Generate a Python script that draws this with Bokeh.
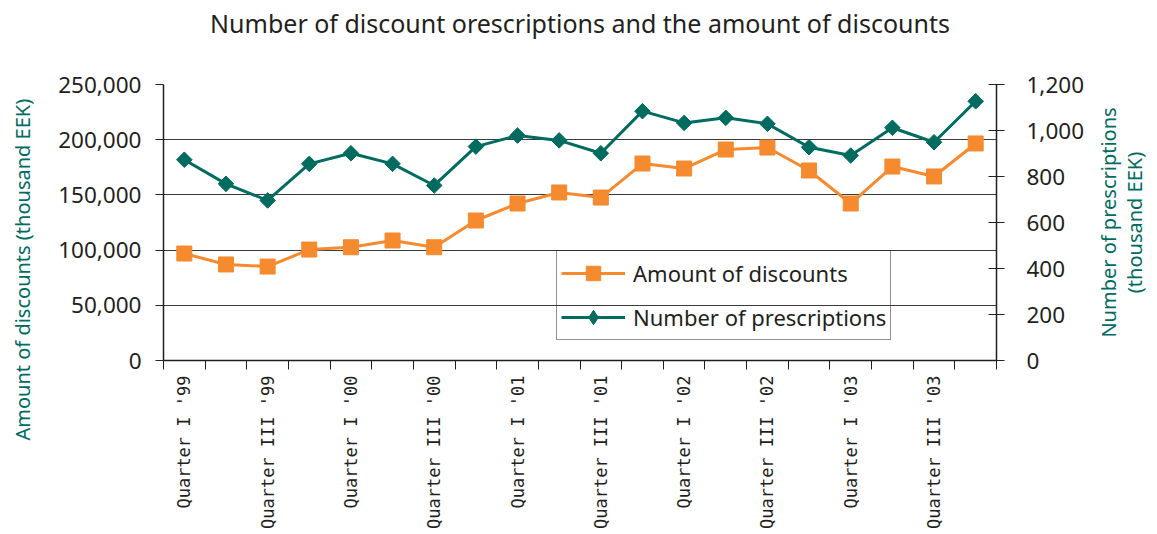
import numpy as np
from bokeh.plotting import figure
from bokeh.layouts import row
from bokeh.models import (Range1d, LinearAxis, FixedTicker, NumeralTickFormatter,
                          Legend, LegendItem, Title, Label)
from bokeh.embed import file_html
from bokeh.resources import INLINE

# ---------------- data ----------------
quarters = ["Quarter I '99", "Quarter II '99", "Quarter III '99", "Quarter IV '99",
            "Quarter I '00", "Quarter II '00", "Quarter III '00", "Quarter IV '00",
            "Quarter I '01", "Quarter II '01", "Quarter III '01", "Quarter IV '01",
            "Quarter I '02", "Quarter II '02", "Quarter III '02", "Quarter IV '02",
            "Quarter I '03", "Quarter II '03", "Quarter III '03", "Quarter IV '03"]
discounts = [96900, 87000, 85100, 100500, 102600, 108700, 102600, 126800, 142200, 152200,
             147600, 178400, 173900, 191100, 192900, 172100, 142200, 175700, 166700, 196600]
prescriptions = [873, 768, 696, 855, 901, 855, 761, 930, 978, 957,
                 901, 1084, 1033, 1055, 1029, 927, 891, 1012, 949, 1127]
left_ticks = [0, 50000, 100000, 150000, 200000, 250000]
right_ticks = [0, 200, 400, 600, 800, 1000, 1200]
series_names = ["Amount of discounts", "Number of prescriptions"]
title_text = "Number of discount orescriptions and the amount of discounts"
left_title = "Amount of discounts (thousand EEK)"
right_title = ["Number of prescriptions", "(thousand EEK)"]

ORANGE = "#F58A2E"
TEAL = "#006B5F"
INK = "#231F20"
FONT = "Noto Sans"

n = len(quarters)
x = [i + 0.5 for i in range(n)]

p = figure(width=1087, height=534, output_backend="svg", toolbar_location=None,
           x_range=Range1d(0, n), y_range=Range1d(0, 250000),
           min_border_left=163, min_border_right=90, min_border_top=84,
           min_border_bottom=174)
p.outline_line_color = None
p.background_fill_color = "white"

# title (outermost) with an invisible spacer between it and the plot
p.title.text = title_text
p.title.align = "center"
p.title.text_font = FONT
p.title.text_font_size = "25px"
p.title.text_font_style = "normal"
p.title.text_color = INK
p.title.standoff = 4
p.add_layout(Title(text=" ", text_font_size="1px", standoff=40), "above")

# x axis
xa = p.xaxis[0]
xa.ticker = FixedTicker(ticks=[x[i] for i in range(0, n, 2)], minor_ticks=list(range(n + 1)))
xa.major_label_overrides = {x[i]: quarters[i] for i in range(0, n, 2)}
xa.major_label_orientation = np.pi / 2
xa.major_tick_in = 0
xa.major_tick_out = 0
xa.minor_tick_in = 0
xa.minor_tick_out = 9
xa.minor_tick_line_color = INK
xa.axis_line_color = INK
xa.axis_line_width = 1.5
xa.major_label_text_font = "DejaVu Sans Mono"
xa.major_label_text_font_size = "17px"
xa.major_label_text_color = INK
xa.major_label_standoff = 6
p.xgrid.visible = False

# left axis
ya = p.yaxis[0]
ya.ticker = FixedTicker(ticks=left_ticks)
ya.formatter = NumeralTickFormatter(format="0,0")
ya.major_tick_in = 0
ya.major_tick_out = 8
ya.major_tick_line_color = INK
ya.axis_line_color = INK
ya.axis_line_width = 1.5
ya.major_label_text_font = FONT
ya.major_label_text_font_size = "22.5px"
ya.major_label_text_color = INK
ya.major_label_standoff = 14
p.ygrid.ticker = FixedTicker(ticks=left_ticks)
p.ygrid.grid_line_color = "#3a3a3a"
p.ygrid.grid_line_width = 1

p.add_layout(Title(text=" ", text_font_size="1px", standoff=12), "left")
p.add_layout(Title(text=left_title, align="left", offset=-80, text_font=FONT,
                   text_font_size="20px", text_font_style="normal", text_color=TEAL), "left")

# right axis
p.extra_y_ranges = {"right": Range1d(0, 1200)}
ra = LinearAxis(y_range_name="right", ticker=FixedTicker(ticks=right_ticks),
                formatter=NumeralTickFormatter(format="0,0"))
ra.major_tick_in = 8
ra.major_tick_out = 8
ra.major_tick_line_color = INK
ra.axis_line_color = INK
ra.axis_line_width = 1.5
ra.major_label_text_font = FONT
ra.major_label_text_font_size = "22.5px"
ra.major_label_text_color = INK
ra.major_label_standoff = 22
p.add_layout(ra, "right")

# series
l1 = p.line(x, discounts, line_color=ORANGE, line_width=3)
s1 = p.scatter(x, discounts, marker="square", size=15, fill_color=ORANGE, line_color=ORANGE)
l2 = p.line(x, prescriptions, y_range_name="right", line_color=TEAL, line_width=3)
s2 = p.scatter(x, prescriptions, y_range_name="right", marker="square", angle=np.pi / 4,
               size=11, fill_color=TEAL, line_color=TEAL)
# legend-only diamond glyph (legend glyphs are never rotated); its point is NaN
s2_leg = p.scatter([np.nan], [np.nan], y_range_name="right", marker="diamond", size=18,
                   fill_color=TEAL, line_color=TEAL)

legend = Legend(items=[LegendItem(label=series_names[0], renderers=[l1, s1]),
                       LegendItem(label=series_names[1], renderers=[l2, s2_leg])],
                location=(393, 20), border_line_color=INK, border_line_width=1,
                background_fill_color=None, background_fill_alpha=0,
                label_text_font=FONT, label_text_font_size="22px", label_text_color=INK,
                glyph_width=64, glyph_height=36, label_height=36, spacing=8,
                padding=4, label_standoff=8, margin=0)
p.add_layout(legend)

# right-hand title panel (text reads bottom to top); its frame is aligned with p's frame
p2 = figure(width=70, height=534, output_backend="svg", toolbar_location=None,
            x_range=Range1d(0, 70), y_range=Range1d(0, 534), min_border=0,
            x_axis_location=None, y_axis_location=None)
p2.grid.visible = False
p2.outline_line_color = None
for xc, txt in zip([21, 47], right_title):
    p2.add_layout(Label(x=xc, y=138, x_units="screen", y_units="screen", text=txt,
                        angle=np.pi / 2, text_align="center", text_baseline="middle",
                        text_font=FONT, text_font_size="20px", text_color=TEAL))

layout = row(p, p2, spacing=0)
open("out.html", "w").write(file_html(layout, INLINE))
